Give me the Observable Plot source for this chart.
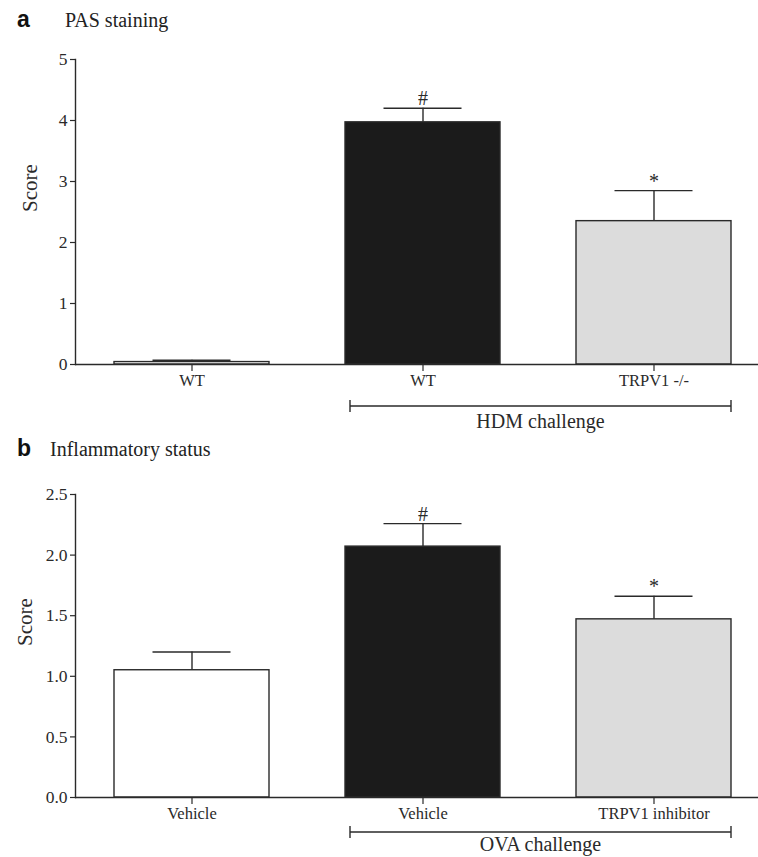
<!DOCTYPE html>
<html><head><meta charset="utf-8">
<script src="https://cdn.jsdelivr.net/npm/d3@7"></script>
<script src="https://cdn.jsdelivr.net/npm/@observablehq/plot@0.6"></script>
<style>
body{margin:0;background:#fff;}
#wrap{position:relative;width:758px;height:857px;overflow:hidden;color:#222;background:#fff;}
.panel{position:absolute;left:0;}
.panel svg{overflow:visible;}
.lbl{position:absolute;font-family:"Liberation Sans",Arial,sans-serif;font-weight:bold;font-size:23px;line-height:23px;color:#111;}
.ttl{position:absolute;font-family:"Liberation Serif","Times New Roman",serif;font-size:20px;line-height:20px;color:#222;}
</style></head>
<body><div id="wrap">
 <div class="panel" id="pb" style="top:430px"></div>
 <div class="panel" id="pa" style="top:0"></div>
 <div class="lbl" style="left:17px;top:8px">a</div>
 <div class="ttl" style="left:65px;top:10px">PAS staining</div>
 <div class="lbl" style="left:17px;top:437px">b</div>
 <div class="ttl" style="left:50px;top:439px">Inflammatory status</div>
</div>
<script>
// Panel a: PAS staining
const keysA = ["WT_ctrl", "WT_hdm", "TRPV1_hdm"];
const labelsA = ["WT", "WT", "TRPV1 -/-"];
const valuesA = [0.04, 3.97, 2.35];
const errorsA = [0.03, 0.23, 0.50];
const marksA = ["", "#", "*"];
const ticksA = [0, 1, 2, 3, 4, 5];
const groupA = ["WT_hdm", "TRPV1_hdm"];
const groupLabelA = "HDM challenge";

// Panel b: Inflammatory status
const keysB = ["Veh_ctrl", "Veh_ova", "Inh_ova"];
const labelsB = ["Vehicle", "Vehicle", "TRPV1 inhibitor"];
const valuesB = [1.05, 2.07, 1.47];
const errorsB = [0.15, 0.19, 0.19];
const marksB = ["", "#", "*"];
const ticksB = [0, 0.5, 1.0, 1.5, 2.0, 2.5];
const groupB = ["Veh_ova", "Inh_ova"];
const groupLabelB = "OVA challenge";

const fills = ["#ffffff", "#1b1b1b", "#dcdcdc"];
const SERIF = "'Liberation Serif', 'Times New Roman', serif";
const INK = "#2a2a2a";

function panel(cfg) {
  const data = cfg.keys.map((k, i) => ({
    key: k, label: cfg.labels[i], value: cfg.values[i],
    upper: cfg.values[i] + cfg.errors[i], mark: cfg.marks[i], fill: fills[i]
  }));
  const chart = Plot.plot({
    width: 758,
    height: cfg.height,
    marginLeft: 75,
    marginRight: 0,
    marginTop: cfg.marginTop,
    marginBottom: cfg.marginBottom,
    style: {fontFamily: SERIF, color: INK, background: "transparent", overflow: "visible"},
    x: {domain: cfg.keys, range: [114, 731], paddingInner: 0.33, paddingOuter: 0, axis: null},
    y: {domain: cfg.domain, axis: null},
    color: {type: "identity"},
    marks: [
      Plot.barY(data, {x: "key", y: "value", fill: "fill", stroke: INK, strokeWidth: 1.4}),
      Plot.ruleX(data, {x: "key", y1: "value", y2: "upper", stroke: INK, strokeWidth: 1.4}),
      Plot.tickY(data, {x: "key", y: "upper", stroke: INK, strokeWidth: 1.4, insetLeft: 38.5, insetRight: 38.5}),
      Plot.text(data, {x: "key", y: "upper", text: "mark", lineAnchor: "bottom", dy: -3, fontSize: 20, fontFamily: SERIF, fill: INK}),
      Plot.ruleY([0], {stroke: INK, strokeWidth: 1.4}),
      Plot.frame({anchor: "left", stroke: INK, strokeWidth: 1.4}),
      Plot.axisY({ticks: cfg.ticks, tickFormat: cfg.tickFormat, tickSize: 5, tickPadding: 3, fontSize: 17.5, fontFamily: SERIF, strokeWidth: 1.2, label: null}),
      Plot.axisX({tickSize: 7, tickPadding: 3, fontSize: 16.5, fontFamily: SERIF, strokeWidth: 1.2, label: null,
        tickFormat: d => cfg.labels[cfg.keys.indexOf(d)]}),
      Plot.text(["Score"], {frameAnchor: "left", rotate: -90, dx: cfg.labelDx, fontSize: 21, fontFamily: SERIF, fill: INK})
    ]
  });
  // group bracket drawn from the chart's own scales
  const sx = chart.scale("x"), sy = chart.scale("y");
  const bw = sx.bandwidth;
  const gx0 = sx.apply(cfg.group[0]) + 5;
  const gx1 = sx.apply(cfg.group[cfg.group.length - 1]) + bw;
  const by = sy.apply(0) + cfg.bracketOffset;
  const g = d3.select(chart).append("g").attr("stroke", INK).attr("stroke-width", 1.4);
  g.append("line").attr("x1", gx0).attr("x2", gx1).attr("y1", by).attr("y2", by);
  g.append("line").attr("x1", gx0).attr("x2", gx0).attr("y1", by - 6).attr("y2", by + 6);
  g.append("line").attr("x1", gx1).attr("x2", gx1).attr("y1", by - 6).attr("y2", by + 6);
  d3.select(chart).append("text").attr("x", (gx0 + gx1) / 2).attr("y", by + cfg.groupDy)
    .attr("text-anchor", "middle").attr("font-family", SERIF).attr("font-size", 20)
    .attr("fill", INK).text(cfg.groupLabel);
  return chart;
}

document.getElementById("pa").appendChild(panel({
  keys: keysA, labels: labelsA, values: valuesA, errors: errorsA, marks: marksA,
  ticks: ticksA, domain: [0, 5], tickFormat: d3.format("d"), group: groupA, groupLabel: groupLabelA,
  height: 430, marginTop: 59, marginBottom: 66, bracketOffset: 42, groupDy: 22, labelDx: -45
}));
document.getElementById("pb").appendChild(panel({
  keys: keysB, labels: labelsB, values: valuesB, errors: errorsB, marks: marksB,
  ticks: ticksB, domain: [0, 2.5], tickFormat: d3.format(".1f"), group: groupB, groupLabel: groupLabelB,
  height: 427, marginTop: 64, marginBottom: 60, bracketOffset: 35, groupDy: 19, labelDx: -50
}));
</script>
</body></html>
